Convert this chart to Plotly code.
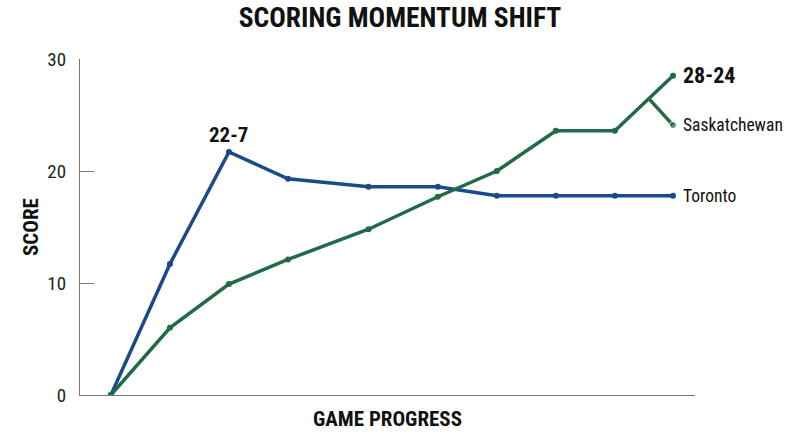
import plotly.graph_objects as go

# Data
progress = [0, 6.3, 12.6, 18.9, 27.5, 34.9, 41.2, 47.5, 53.8, 60]
toronto = [0, 11.7, 21.7, 19.3, 18.6, 18.6, 17.8, 17.8, 17.8, 17.8]
saskatchewan = [0, 6.0, 9.9, 12.1, 14.8, 17.7, 20.0, 23.6, 23.6, 28.5]
leader_x = [57.5, 60]
leader_y = [26.4, 24.1]

BLUE = "#1b4a8a"
GREEN = "#1e6b45"
FONT = "Roboto Condensed, Liberation Sans Narrow, DejaVu Sans Condensed, Roboto, sans-serif"

fig = go.Figure()
fig.add_trace(go.Scatter(x=progress, y=toronto, mode="lines+markers",
                         line=dict(color=BLUE, width=3.5), marker=dict(size=6, color=BLUE),
                         name="Toronto", hoverinfo="skip"))
fig.add_trace(go.Scatter(x=progress, y=saskatchewan, mode="lines+markers",
                         line=dict(color=GREEN, width=3.5), marker=dict(size=6, color=GREEN),
                         name="Saskatchewan", hoverinfo="skip"))
fig.add_trace(go.Scatter(x=leader_x, y=leader_y, mode="lines+markers",
                         line=dict(color=GREEN, width=3.5),
                         marker=dict(size=[0.1, 7], color=GREEN),
                         showlegend=False, hoverinfo="skip"))

fig.add_annotation(x=progress[2], y=toronto[2], text="<b>22-7</b>", showarrow=False,
                   yshift=17, font=dict(size=21, color="#111", family=FONT))
fig.add_annotation(x=progress[-1], y=saskatchewan[-1], text="<b>28-24</b>", showarrow=False,
                   xanchor="left", xshift=8, font=dict(size=22, color="#111", family=FONT))
fig.add_annotation(x=leader_x[-1], y=leader_y[-1], text="Saskatchewan", showarrow=False,
                   xanchor="left", xshift=8, font=dict(size=17.5, color="#111", family=FONT))
fig.add_annotation(x=progress[-1], y=toronto[-1], text="Toronto", showarrow=False,
                   xanchor="left", xshift=8, font=dict(size=17.5, color="#111", family=FONT))

fig.update_layout(
    width=800, height=447,
    margin=dict(l=80, r=105, t=59, b=52),
    paper_bgcolor="white", plot_bgcolor="white",
    showlegend=False, hovermode=False,
    font=dict(family=FONT, color="#111"),
    title=dict(text="<b>SCORING MOMENTUM SHIFT</b>", x=0.5, xanchor="center",
               y=0.962, yanchor="middle", font=dict(size=27.5, family=FONT, color="#111")),
)
fig.update_xaxes(range=[-3.3, 62.35], showgrid=False, zeroline=False, showticklabels=False,
                 ticks="", showline=True, linecolor="#777", linewidth=1.2,
                 title=dict(text="<b>GAME PROGRESS</b>", standoff=16,
                            font=dict(size=21, family=FONT, color="#111")))
fig.update_yaxes(range=[0, 30], tickvals=[0, 10, 20, 30], showgrid=False, zeroline=False,
                 ticks="inside", ticklen=14, tickcolor="#777", tickwidth=1.2,
                 showline=True, linecolor="#777", linewidth=1.2,
                 tickfont=dict(size=19, family=FONT, color="#222"), ticklabelstandoff=9,
                 title=dict(text="<b>SCORE</b>", standoff=2,
                            font=dict(size=21, family=FONT, color="#111")))

fig.write_html("out.html", config={"displayModeBar": False},
               post_script="document.body.style.margin='0';")
